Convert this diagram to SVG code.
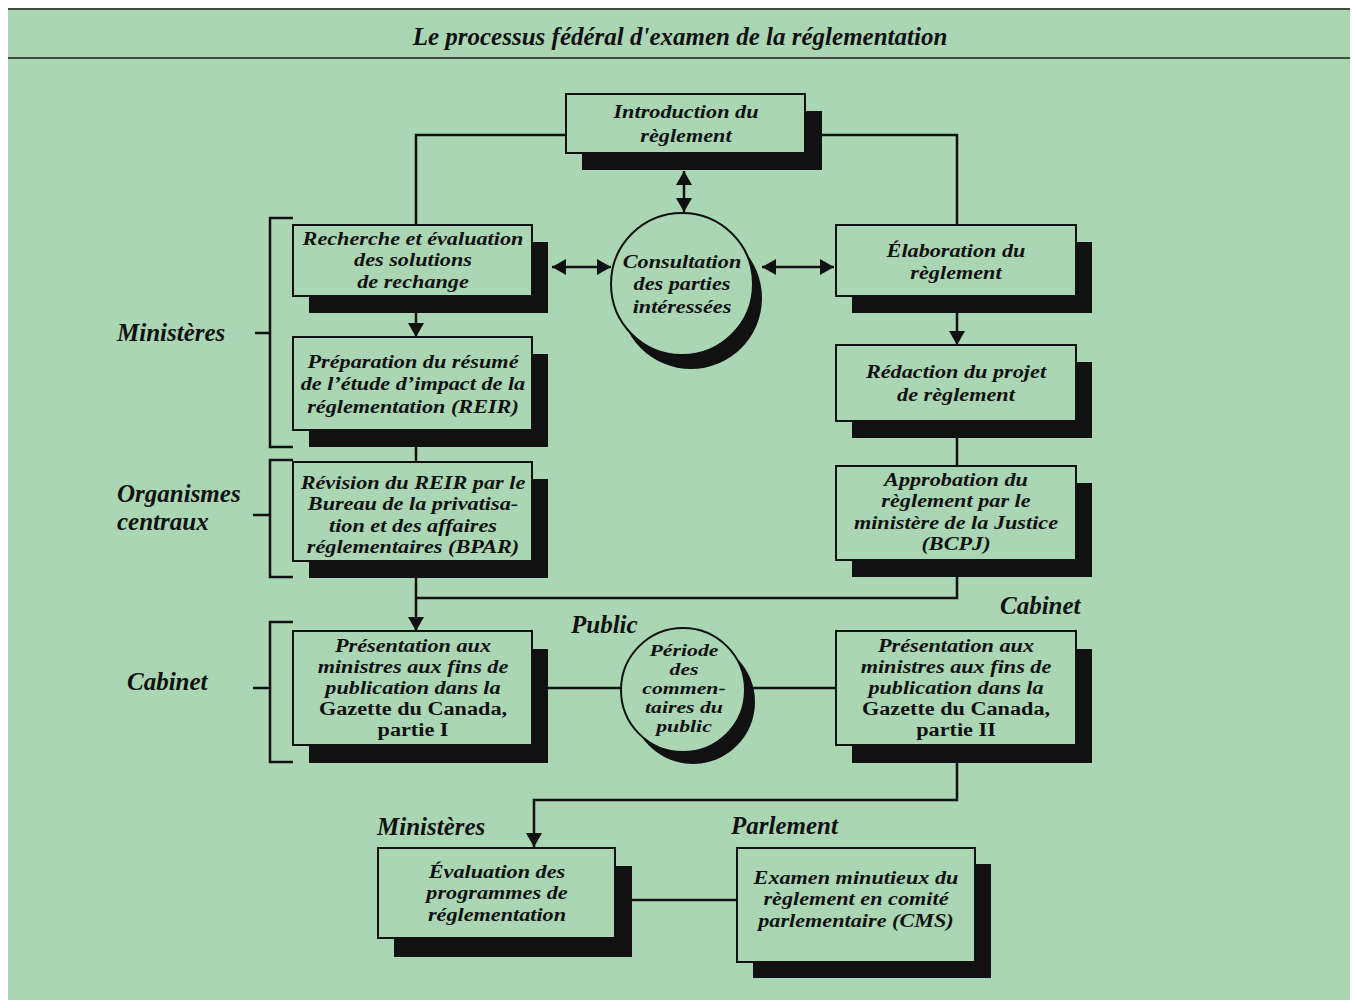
<svg xmlns="http://www.w3.org/2000/svg" width="1357" height="1008" viewBox="0 0 1357 1008">
  <defs>
    <marker id="ah" viewBox="0 0 14 16" refX="14" refY="8" markerWidth="14" markerHeight="16" markerUnits="userSpaceOnUse" orient="auto-start-reverse">
      <path d="M0,0 L14,8 L0,16 z" fill="#111"/>
    </marker>
    <style>
      .panel { fill: #aad6b4; }
      .rule { stroke: #3f4d43; stroke-width: 2; fill: none; }
      .box { fill: #aad6b4; stroke: #111; stroke-width: 2; }
      .sh { fill: #111; }
      .conn { stroke: #111; stroke-width: 2.5; fill: none; }
      .arr { marker-end: url(#ah); }
      .dbl { marker-start: url(#ah); marker-end: url(#ah); }
      text { font-family: "Liberation Serif", "Times New Roman", serif; font-weight: bold; font-style: italic; fill: #111; }
      .t { font-size: 19px; text-anchor: middle; }
      .s { font-size: 17px; text-anchor: middle; }
      .rm { font-style: normal; }
      .lab { font-size: 25px; }
      .title { font-size: 25px; text-anchor: middle; }
    </style>
  </defs>

  <!-- page and panel -->
  <rect width="1357" height="1008" fill="#ffffff"/>
  <rect class="panel" x="8" y="8" width="1342" height="992"/>
  <line class="rule" x1="8" y1="9" x2="1350" y2="9" stroke-width="1.5"/>
  <line class="rule" x1="8" y1="58" x2="1350" y2="58"/>
  <text class="title" x="680" y="45">Le processus fédéral d'examen de la réglementation</text>

  <!-- side labels and brackets -->
  <g id="labels">
    <text class="lab" x="117" y="341">Ministères</text>
    <text class="lab" x="117" y="502">Organismes</text>
    <text class="lab" x="117" y="530">centraux</text>
    <text class="lab" x="127" y="690">Cabinet</text>
    <text class="lab" x="571" y="633">Public</text>
    <text class="lab" x="1000" y="614">Cabinet</text>
    <text class="lab" x="377" y="835">Ministères</text>
    <text class="lab" x="731" y="834">Parlement</text>
  </g>
  <g id="brackets" class="conn">
    <path d="M293,218 H270 V447 H293 M255,333 H270"/>
    <path d="M293,460 H270 V577 H293 M253,515 H270"/>
    <path d="M293,622 H270 V762 H293 M253,688 H270"/>
  </g>

  <!-- connectors -->
  <g id="connectors" class="conn">
    <path d="M566,135 H416 V225"/>
    <path d="M805,135 H957 V225"/>
    <path class="dbl" d="M684,171 V212"/>
    <path class="dbl" d="M552,267 H611"/>
    <path class="dbl" d="M762,267 H834"/>
    <path class="arr" d="M416,313 V337"/>
    <path class="arr" d="M957,313 V345"/>
    <path d="M416,447 V462"/>
    <path d="M957,438 V467"/>
    <path class="arr" d="M416,578 V631"/>
    <path d="M957,577 V598 H416"/>
    <path d="M548,688 H621"/>
    <path d="M752,688 H836"/>
    <path class="arr" d="M957,763 V800 H534 V847"/>
    <path d="M632,900 H737"/>
  </g>

  <!-- nodes; text lines are widened horizontally about each node's centre -->
  <g id="n-introduction">
    <rect class="sh" x="582" y="111" width="240" height="59"/>
    <rect class="box" x="566" y="94" width="239" height="59"/>
    <g transform="matrix(1.17 0 0 1 -116.62 0)">
      <text class="t" x="686" y="118">Introduction du</text>
      <text class="t" x="686" y="142">règlement</text>
    </g>
  </g>

  <g id="n-consultation">
    <circle class="sh" cx="691" cy="298" r="71"/>
    <circle class="box" cx="682" cy="284" r="71"/>
    <g transform="matrix(1.17 0 0 1 -115.94 0)">
      <text class="t" x="682" y="268">Consultation</text>
      <text class="t" x="682" y="290">des parties</text>
      <text class="t" x="682" y="313">intéressées</text>
    </g>
  </g>

  <g id="n-recherche">
    <rect class="sh" x="309" y="242" width="239" height="71"/>
    <rect class="box" x="293" y="225" width="239" height="71"/>
    <g transform="matrix(1.17 0 0 1 -70.21 0)">
      <text class="t" x="413" y="245">Recherche et évaluation</text>
      <text class="t" x="413" y="266">des solutions</text>
      <text class="t" x="413" y="288">de rechange</text>
    </g>
  </g>

  <g id="n-elaboration">
    <rect class="sh" x="852" y="242" width="240" height="71"/>
    <rect class="box" x="836" y="225" width="240" height="71"/>
    <g transform="matrix(1.17 0 0 1 -162.52 0)">
      <text class="t" x="956" y="257">Élaboration du</text>
      <text class="t" x="956" y="279">règlement</text>
    </g>
  </g>

  <g id="n-preparation">
    <rect class="sh" x="309" y="354" width="239" height="93"/>
    <rect class="box" x="293" y="337" width="239" height="93"/>
    <g transform="matrix(1.17 0 0 1 -70.21 0)">
      <text class="t" x="413" y="368">Préparation du résumé</text>
      <text class="t" x="413" y="390">de l’étude d’impact de la</text>
      <text class="t" x="413" y="413">réglementation (REIR)</text>
    </g>
  </g>

  <g id="n-redaction">
    <rect class="sh" x="852" y="362" width="240" height="76"/>
    <rect class="box" x="836" y="345" width="240" height="76"/>
    <g transform="matrix(1.17 0 0 1 -162.52 0)">
      <text class="t" x="956" y="378">Rédaction du projet</text>
      <text class="t" x="956" y="401">de règlement</text>
    </g>
  </g>

  <g id="n-revision">
    <rect class="sh" x="309" y="479" width="239" height="99"/>
    <rect class="box" x="293" y="462" width="239" height="99"/>
    <g transform="matrix(1.17 0 0 1 -70.21 0)">
      <text class="t" x="413" y="489">Révision du REIR par le</text>
      <text class="t" x="413" y="510.5">Bureau de la privatisa-</text>
      <text class="t" x="413" y="532">tion et des affaires</text>
      <text class="t" x="413" y="553.5">réglementaires (BPAR)</text>
    </g>
  </g>

  <g id="n-approbation">
    <rect class="sh" x="852" y="483" width="240" height="94"/>
    <rect class="box" x="836" y="466" width="240" height="94"/>
    <g transform="matrix(1.17 0 0 1 -162.52 0)">
      <text class="t" x="956" y="486">Approbation du</text>
      <text class="t" x="956" y="507.5">règlement par le</text>
      <text class="t" x="956" y="529">ministère de la Justice</text>
      <text class="t" x="956" y="550.5">(BCPJ)</text>
    </g>
  </g>

  <g id="n-presentation-1">
    <rect class="sh" x="309" y="649" width="239" height="114"/>
    <rect class="box" x="293" y="631" width="239" height="114"/>
    <g transform="matrix(1.17 0 0 1 -70.21 0)">
      <text class="t" x="413" y="652">Présentation aux</text>
      <text class="t" x="413" y="673">ministres aux fins de</text>
      <text class="t" x="413" y="694">publication dans la</text>
      <text class="t rm" x="413" y="715">Gazette du Canada,</text>
      <text class="t rm" x="413" y="736">partie I</text>
    </g>
  </g>

  <g id="n-periode">
    <circle class="sh" cx="693" cy="702" r="62"/>
    <circle class="box" cx="683" cy="690" r="62"/>
    <g transform="matrix(1.28 0 0 1 -191.52 0)">
      <text class="s" x="684" y="656">Période</text>
      <text class="s" x="684" y="675">des</text>
      <text class="s" x="684" y="694">commen-</text>
      <text class="s" x="684" y="713">taires du</text>
      <text class="s" x="684" y="732">public</text>
    </g>
  </g>

  <g id="n-presentation-2">
    <rect class="sh" x="852" y="649" width="240" height="114"/>
    <rect class="box" x="836" y="631" width="240" height="114"/>
    <g transform="matrix(1.17 0 0 1 -162.52 0)">
      <text class="t" x="956" y="652">Présentation aux</text>
      <text class="t" x="956" y="673">ministres aux fins de</text>
      <text class="t" x="956" y="694">publication dans la</text>
      <text class="t rm" x="956" y="715">Gazette du Canada,</text>
      <text class="t rm" x="956" y="736">partie II</text>
    </g>
  </g>

  <g id="n-evaluation">
    <rect class="sh" x="394" y="866" width="238" height="91"/>
    <rect class="box" x="378" y="848" width="237" height="90"/>
    <g transform="matrix(1.17 0 0 1 -84.49 0)">
      <text class="t" x="497" y="878">Évaluation des</text>
      <text class="t" x="497" y="899.5">programmes de</text>
      <text class="t" x="497" y="921">réglementation</text>
    </g>
  </g>

  <g id="n-examen">
    <rect class="sh" x="753" y="864" width="238" height="114"/>
    <rect class="box" x="737" y="848" width="238" height="114"/>
    <g transform="matrix(1.17 0 0 1 -145.52 0)">
      <text class="t" x="856" y="884">Examen minutieux du</text>
      <text class="t" x="856" y="905.5">règlement en comité</text>
      <text class="t" x="856" y="927">parlementaire (CMS)</text>
    </g>
  </g>
</svg>
